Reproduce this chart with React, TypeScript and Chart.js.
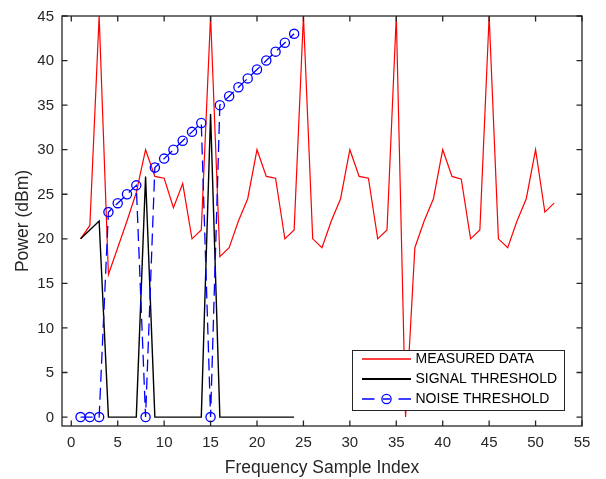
import React, { useEffect, useRef } from "react";
import { Chart, registerables } from "chart.js";

Chart.register(...registerables);

// ---- data ----
const measuredIndex = [
  1, 2, 3, 4, 5, 6, 7, 8, 9, 10, 11, 12, 13, 14, 15, 16, 17, 18, 19, 20, 21, 22, 23, 24, 25, 26,
  27, 28, 29, 30, 31, 32, 33, 34, 35, 36, 37, 38, 39, 40, 41, 42, 43, 44, 45, 46, 47, 48, 49, 50, 51, 52,
];
const measuredData = [
  20, 21.5, 45, 16, 19, 22, 25.2, 30, 27, 26.8, 23.5, 26.2, 20, 21, 45, 18, 19, 22, 24.5, 30, 27, 26.8, 20, 21, 45, 20,
  19, 22, 24.5, 30, 27, 26.8, 20, 21, 45, 0, 19, 22, 24.5, 30, 27, 26.7, 20, 21, 45, 20, 19, 22, 24.5, 30, 23, 24,
];
const thresholdIndex = [1, 2, 3, 4, 5, 6, 7, 8, 9, 10, 11, 12, 13, 14, 15, 16, 17, 18, 19, 20, 21, 22, 23, 24];
const signalThreshold = [20, 21, 22, 0, 0, 0, 0, 27, 0, 0, 0, 0, 0, 0, 34, 0, 0, 0, 0, 0, 0, 0, 0, 0];
const noiseThreshold = [0, 0, 0, 23, 24, 25, 26, 0, 28, 29, 30, 31, 32, 33, 0, 35, 36, 37, 38, 39, 40, 41, 42, 43];

const xTickValues = [0, 5, 10, 15, 20, 25, 30, 35, 40, 45, 50, 55];
const yTickValues = [0, 5, 10, 15, 20, 25, 30, 35, 40, 45];
const xLabel = "Frequency Sample Index";
const yLabel = "Power (dBm)";
const legendLabels = ["MEASURED DATA", "SIGNAL THRESHOLD", "NOISE THRESHOLD"];

// ---- style ----
const FONT = "'Liberation Sans', Arial, Helvetica, sans-serif";
const AXIS = "#262626";
const RED = "#ff0000";
const BLACK = "#000000";
const BLUE = "#0000ff";

const toPoints = (xs: number[], ys: number[]) => xs.map((x, i) => ({ x, y: ys[i] }));

const framePlugin = {
  id: "matlabFrame",
  afterDraw(chart: any) {
    const { ctx, chartArea: a, scales } = chart;
    ctx.save();
    // box
    ctx.strokeStyle = AXIS;
    ctx.lineWidth = 1.3;
    ctx.strokeRect(a.left, a.top, a.right - a.left, a.bottom - a.top);
    // inward ticks
    const L = 5.5;
    ctx.beginPath();
    for (const v of xTickValues) {
      const px = scales.x.getPixelForValue(v);
      ctx.moveTo(px, a.bottom);
      ctx.lineTo(px, a.bottom - L);
      ctx.moveTo(px, a.top);
      ctx.lineTo(px, a.top + L);
    }
    for (const v of yTickValues) {
      const py = scales.y.getPixelForValue(v);
      ctx.moveTo(a.left, py);
      ctx.lineTo(a.left + L, py);
      ctx.moveTo(a.right, py);
      ctx.lineTo(a.right - L, py);
    }
    ctx.stroke();

    // tick labels
    ctx.fillStyle = AXIS;
    ctx.font = `15px ${FONT}`;
    ctx.textBaseline = "middle";
    ctx.textAlign = "center";
    for (const v of xTickValues) {
      ctx.fillText(String(v), scales.x.getPixelForValue(v), a.bottom + 17);
    }
    ctx.textAlign = "right";
    for (const v of yTickValues) {
      ctx.fillText(String(v), a.left - 8, scales.y.getPixelForValue(v) + 0.5);
    }

    // legend
    const bw = 212;
    const bh = 60;
    const bx = a.right - 17.5 - bw;
    const by = a.bottom - 15.5 - bh;
    ctx.fillStyle = "#ffffff";
    ctx.fillRect(bx, by, bw, bh);
    ctx.strokeStyle = AXIS;
    ctx.lineWidth = 1;
    ctx.strokeRect(bx, by, bw, bh);
    const lx0 = bx + 9.5;
    const lx1 = bx + 58.5;
    const tx = bx + 63;
    const rows = [by + 8.5, by + 28.5, by + 48.5];
    ctx.font = `14px ${FONT}`;
    ctx.textBaseline = "middle";
    ctx.textAlign = "left";
    // measured
    ctx.strokeStyle = RED;
    ctx.lineWidth = 1.5;
    ctx.beginPath();
    ctx.moveTo(lx0, rows[0]);
    ctx.lineTo(lx1, rows[0]);
    ctx.stroke();
    // signal
    ctx.strokeStyle = BLACK;
    ctx.lineWidth = 2;
    ctx.beginPath();
    ctx.moveTo(lx0, rows[1]);
    ctx.lineTo(lx1, rows[1]);
    ctx.stroke();
    // noise
    const cx = (lx0 + lx1) / 2;
    ctx.strokeStyle = BLUE;
    ctx.lineWidth = 1.3;
    ctx.beginPath();
    ctx.moveTo(lx0, rows[2]);
    ctx.lineTo(lx0 + 12.5, rows[2]);
    ctx.moveTo(cx - 3.5, rows[2]);
    ctx.lineTo(cx + 3.5, rows[2]);
    ctx.moveTo(lx1 - 12.5, rows[2]);
    ctx.lineTo(lx1, rows[2]);
    ctx.stroke();
    ctx.beginPath();
    ctx.arc(cx, rows[2], 4.6, 0, Math.PI * 2);
    ctx.stroke();
    ctx.fillStyle = "#000000";
    legendLabels.forEach((t, i) => ctx.fillText(t, tx, rows[i] + 0.5));
    ctx.restore();
  },
};

export default function App() {
  const ref = useRef<HTMLCanvasElement | null>(null);

  useEffect(() => {
    if (!ref.current) return;
    const chart = new Chart(ref.current, {
      type: "line",
      data: {
        datasets: [
          {
            label: legendLabels[0],
            data: toPoints(measuredIndex, measuredData),
            borderColor: RED,
            borderWidth: 1.2,
            pointRadius: 0,
            tension: 0,
            order: 3,
            clip: 1,
          },
          {
            label: legendLabels[1],
            data: toPoints(thresholdIndex, signalThreshold),
            borderColor: BLACK,
            borderWidth: 1.4,
            pointRadius: 0,
            tension: 0,
            order: 2,
            clip: 1,
          },
          {
            label: legendLabels[2],
            data: toPoints(thresholdIndex, noiseThreshold),
            borderColor: BLUE,
            borderWidth: 1.3,
            borderDash: [12, 6],
            pointRadius: 4.6,
            pointBorderWidth: 1.3,
            pointBorderColor: BLUE,
            pointBackgroundColor: "rgba(0,0,0,0)",
            pointStyle: "circle",
            tension: 0,
            order: 1,
            clip: 8,
          },
        ],
      },
      options: {
        animation: false,
        responsive: false,
        events: [],
        layout: { padding: { left: 0, top: 16, right: 24, bottom: 0 } },
        plugins: {
          legend: { display: false },
          tooltip: { enabled: false },
        },
        scales: {
          x: {
            type: "linear",
            min: -1,
            max: 55,
            afterBuildTicks: (s: any) => {
              s.ticks = xTickValues.map((v) => ({ value: v }));
            },
            afterFit: (s: any) => {
              s.height = 53;
            },
            grid: { display: false },
            border: { display: false },
            ticks: { display: false },
            title: {
              display: true,
              text: xLabel,
              color: AXIS,
              font: { family: FONT, size: 17.5 },
              padding: { top: 0, bottom: 0 },
            },
          },
          y: {
            type: "linear",
            min: -1,
            max: 45,
            afterBuildTicks: (s: any) => {
              s.ticks = yTickValues.map((v) => ({ value: v }));
            },
            afterFit: (s: any) => {
              s.width = 62;
            },
            grid: { display: false },
            border: { display: false },
            ticks: { display: false },
            title: {
              display: true,
              text: yLabel,
              color: AXIS,
              font: { family: FONT, size: 17.5 },
              padding: { top: 12.5, bottom: 0 },
            },
          },
        },
      },
      plugins: [framePlugin],
    } as any);
    return () => chart.destroy();
  }, []);

  return (
    <div style={{ position: "fixed", left: 0, top: 0, width: 606, height: 479, background: "#ffffff" }}>
      <canvas ref={ref} width={606} height={479} style={{ display: "block" }} />
    </div>
  );
}
